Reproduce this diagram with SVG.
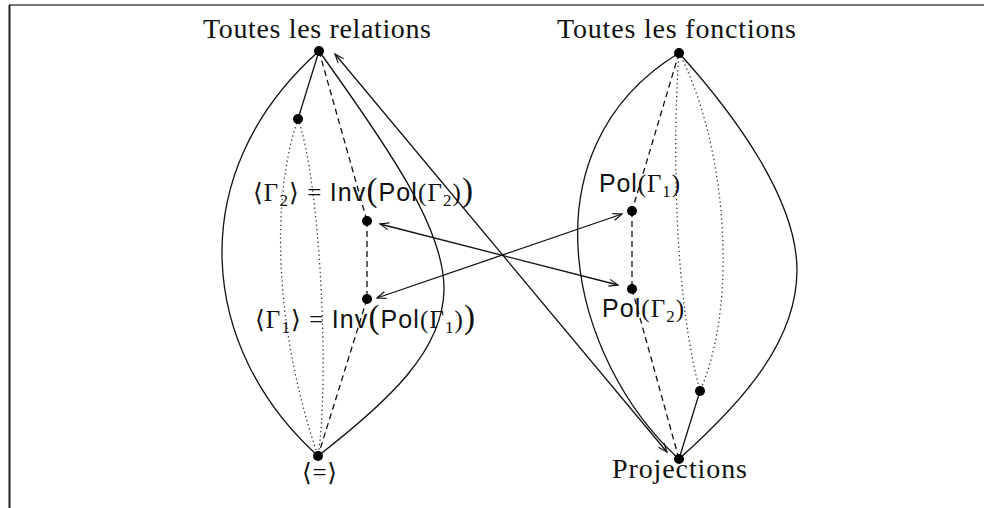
<svg xmlns="http://www.w3.org/2000/svg" width="984" height="508" viewBox="0 0 984 508">
<style>
.t{font-family:"Liberation Serif","DejaVu Serif",serif;font-size:28px;fill:#111}
.m{font-family:"Liberation Serif","DejaVu Serif",serif;font-size:25px;fill:#111}
.s{font-family:"Liberation Sans","DejaVu Sans",sans-serif}
.sub{font-size:17px}
.big{font-size:33px}
.solid{fill:none;stroke:#111;stroke-width:1.3}
.dash{fill:none;stroke:#111;stroke-width:1.3;stroke-dasharray:6 4}
.dot{fill:none;stroke:#333;stroke-width:1.3;stroke-dasharray:1.3 3}
.arr{fill:none;stroke:#111;stroke-width:1.3;marker-start:url(#ah);marker-end:url(#ah)}
.n{fill:#000}
</style>
<defs>
<marker id="ah" viewBox="-10 -5 12 10" markerWidth="12" markerHeight="10" refX="0" refY="0" orient="auto-start-reverse" markerUnits="userSpaceOnUse">
<path d="M-9,-3.5 L0,0 L-9,3.5" fill="none" stroke="#111" stroke-width="1.2"/>
</marker>
</defs>
<rect width="984" height="508" fill="#fff"/>
<line x1="9" y1="5" x2="984" y2="5" stroke="#777" stroke-width="2"/>
<line x1="9.5" y1="5" x2="9.5" y2="508" stroke="#222" stroke-width="2"/>
<g id="connectors">
<path class="solid" d="M319,51 C180,175 200,350 318,456"/>
<path class="solid" d="M319,51 C390,150 445,230 444,290 C443,350 390,400 318,456"/>
<path class="solid" d="M319,51 L298,119"/>
<path class="dot" d="M298,119 C270,200 275,330 318,456"/>
<path class="dot" d="M298,119 C320,180 330,380 318,456"/>
<path class="dash" d="M319,51 L367,221"/>
<path class="dash" d="M367,221 L367,299"/>
<path class="dash" d="M367,299 L318,456"/>
<path class="solid" d="M679,53 C520,150 570,360 679,459"/>
<path class="solid" d="M679,53 C735,115 797,200 797,270 C797,340 745,400 679,459"/>
<path class="dash" d="M679,53 L632,211"/>
<path class="dash" d="M632,211 L632,289"/>
<path class="dash" d="M632,289 L679,459"/>
<path class="dot" d="M679,53 C672,150 675,300 700,391"/>
<path class="dot" d="M679,53 C725,140 740,300 700,391"/>
<path class="solid" d="M700,391 L679,459"/>
<path class="arr" d="M335,54 L667,452"/>
<path class="arr" d="M377,298 L622,214"/>
<path class="arr" d="M380,224 L618,285"/>
</g>
<g id="n-relations"><circle class="n" cx="319" cy="51" r="5"/><text class="t" x="317" y="38" text-anchor="middle" textLength="228">Toutes les relations</text></g>
<g id="n-fonctions"><circle class="n" cx="679" cy="53" r="5"/><text class="t" x="676.5" y="38" text-anchor="middle" textLength="239">Toutes les fonctions</text></g>
<g id="n-eq"><circle class="n" cx="318" cy="456" r="5"/><text class="m" x="319.5" y="481" text-anchor="middle" textLength="35">⟨=⟩</text></g>
<g id="n-proj"><circle class="n" cx="679" cy="459" r="5"/><text class="t" x="679.5" y="478" text-anchor="middle" textLength="135">Projections</text></g>
<g id="n-left"><circle class="n" cx="298" cy="119" r="5"/></g>
<g id="n-right"><circle class="n" cx="700" cy="391" r="5"/></g>
<g id="n-g2"><circle class="n" cx="367" cy="221" r="5"/><text class="m" x="363" y="201" text-anchor="middle" textLength="220">⟨Γ<tspan class="sub" dy="5">2</tspan><tspan dy="-5">⟩ = </tspan><tspan class="s">Inv</tspan><tspan class="big">(</tspan><tspan class="s">Pol</tspan>(Γ<tspan class="sub" dy="5">2</tspan><tspan dy="-5">)</tspan><tspan class="big">)</tspan></text></g>
<g id="n-g1"><circle class="n" cx="367" cy="299" r="5"/><text class="m" x="365" y="328" text-anchor="middle" textLength="220">⟨Γ<tspan class="sub" dy="5">1</tspan><tspan dy="-5">⟩ = </tspan><tspan class="s">Inv</tspan><tspan class="big">(</tspan><tspan class="s">Pol</tspan>(Γ<tspan class="sub" dy="5">1</tspan><tspan dy="-5">)</tspan><tspan class="big">)</tspan></text></g>
<g id="n-p1"><circle class="n" cx="632" cy="211" r="5"/><text class="m" x="639.5" y="192" text-anchor="middle" textLength="81"><tspan class="s">Pol</tspan>(Γ<tspan class="sub" dy="5">1</tspan><tspan dy="-5">)</tspan></text></g>
<g id="n-p2"><circle class="n" cx="632" cy="289" r="5"/><text class="m" x="643" y="317" text-anchor="middle" textLength="82"><tspan class="s">Pol</tspan>(Γ<tspan class="sub" dy="5">2</tspan><tspan dy="-5">)</tspan></text></g>
</svg>
